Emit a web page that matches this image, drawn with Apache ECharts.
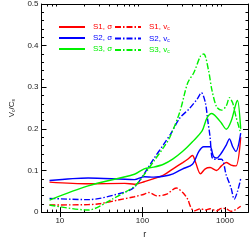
<!DOCTYPE html>
<html><head><meta charset="utf-8">
<script src="https://cdn.jsdelivr.net/npm/echarts@6/dist/echarts.min.js"></script>
<style>html,body{margin:0;padding:0;background:#fff}#c{width:250px;height:244px}</style>
</head><body><div id="c"></div>
<script>
// ---- data (r, value) ----
const s1SigmaR = [7.5, 22, 61, 80, 105, 180, 235, 308, 353, 404, 441, 505, 577, 660, 791, 905, 1036, 1185, 1356, 1550];
const s1SigmaV = [0.072, 0.068, 0.069, 0.067, 0.073, 0.089, 0.104, 0.119, 0.127, 0.136, 0.119, 0.092, 0.104, 0.107, 0.100, 0.111, 0.119, 0.113, 0.111, 0.180];

const s1VR = [7.5, 22, 30, 51, 80, 105, 120, 149, 197, 257, 308, 353, 385, 422, 505, 577, 660, 791, 905, 1036, 1185, 1356, 1550];
const s1VV = [0.017, 0.018, 0.020, 0.029, 0.037, 0.043, 0.047, 0.039, 0.043, 0.058, 0.047, 0.031, 0.012, 0.003, 0.008, 0.005, 0.008, 0.003, 0.009, 0.008, 0.002, 0.006, 0.014];

const s2SigmaR = [7.5, 22, 80, 105, 137, 180, 235, 308, 404, 483, 553, 660, 724, 791, 905, 1036, 1132, 1241, 1356, 1550];
const s2SigmaV = [0.076, 0.082, 0.078, 0.085, 0.084, 0.086, 0.092, 0.104, 0.115, 0.146, 0.157, 0.157, 0.134, 0.130, 0.142, 0.161, 0.176, 0.157, 0.146, 0.190];

const s2VR = [7.5, 22, 61, 80, 105, 137, 180, 223, 284, 372, 462, 518, 577, 621, 660, 692, 730, 905, 1036, 1185, 1295, 1419, 1550];
const s2VV = [0.033, 0.030, 0.048, 0.060, 0.092, 0.128, 0.162, 0.190, 0.226, 0.249, 0.272, 0.287, 0.264, 0.218, 0.180, 0.134, 0.127, 0.127, 0.089, 0.058, 0.031, 0.050, 0.080];

const s3SigmaR = [7.5, 22, 80, 105, 137, 180, 235, 308, 404, 528, 604, 692, 791, 905, 1036, 1185, 1356, 1419, 1550];
const s3SigmaV = [0.029, 0.063, 0.091, 0.104, 0.108, 0.115, 0.128, 0.146, 0.169, 0.195, 0.226, 0.237, 0.228, 0.214, 0.199, 0.218, 0.260, 0.268, 0.200];

const s3VR = [7.5, 22, 43, 80, 105, 137, 180, 215, 284, 353, 422, 505, 553, 633, 692, 791, 905, 1036, 1132, 1241, 1356, 1550];
const s3VV = [0.017, 0.005, 0.031, 0.062, 0.090, 0.122, 0.155, 0.180, 0.241, 0.310, 0.336, 0.375, 0.380, 0.340, 0.295, 0.253, 0.245, 0.255, 0.275, 0.262, 0.230, 0.190];

const xMajorTicks = [10, 100, 1000];
const xMinorTicks = [6, 7, 8, 9, 20, 30, 40, 50, 60, 70, 80, 90, 200, 300, 400, 500, 600, 700, 800, 900];

const names = ['S1, σ', 'S1, v_c', 'S2, σ', 'S2, v_c', 'S3, σ', 'S3, v_c'];
const colors = ['#ff0000', '#ff0000', '#0000ff', '#0000ff', '#00f000', '#00f000'];

// ---- build ----
function pairs(r, v) { return r.map((x, i) => [x, v[i]]); }
const seriesData = [pairs(s1SigmaR, s1SigmaV), pairs(s1VR, s1VV), pairs(s2SigmaR, s2SigmaV), pairs(s2VR, s2VV), pairs(s3SigmaR, s3SigmaV), pairs(s3VR, s3VV)];
const dashDot = [6, 2, 1.5, 2];
const FONT = 'Liberation Sans';

const series = seriesData.map((d, i) => ({
  name: names[i], type: 'line', data: d, showSymbol: false, symbol: 'none', smooth: 0.3,
  xAxisIndex: 0, yAxisIndex: 0,
  lineStyle: { color: colors[i], width: 1.4, type: (i % 2) ? dashDot : 'solid' },
  itemStyle: { color: colors[i] }
}));

function legendFmt(n) {
  if (n.endsWith('v_c')) return '{t|' + n.slice(0, -2) + '}{s|c}';
  return '{t|' + n + '}';
}
function makeLegend(idx, left) {
  return {
    orient: 'vertical', left: left, top: 18, itemWidth: 26, itemHeight: 8, itemGap: 3,
    formatter: legendFmt,
    itemStyle: { opacity: 0 },
    textStyle: { fontSize: 8, fontFamily: FONT, padding: [0, 0, 0, 3],
      rich: { t: { fontSize: 8, fontFamily: FONT }, s: { fontSize: 5, fontFamily: FONT, padding: [4, 0, 0, 0] } } },
    data: idx.map(i => ({ name: names[i], textStyle: { color: colors[i] } }))
  };
}

function xAxis(pos, major) {
  return {
    type: 'log', logBase: 10, min: 6, max: 1900, position: pos,
    axisLine: { show: true, lineStyle: { color: '#000', width: 1 } },
    axisTick: major ? { show: true, inside: true, length: 5, customValues: xMajorTicks, lineStyle: { color: '#000' } }
                    : { show: true, inside: true, length: 2.5, customValues: xMinorTicks, lineStyle: { color: '#000' } },
    axisLabel: { show: major && pos === 'bottom', customValues: xMajorTicks, fontSize: 8, color: '#222', fontFamily: FONT, margin: 5,
      formatter: v => String(Math.round(v)) },
    splitLine: { show: false },
    name: (major && pos === 'bottom') ? 'r' : '', nameLocation: 'middle', nameGap: 17,
    nameTextStyle: { fontSize: 9, color: '#222', fontFamily: FONT }
  };
}
function yAxis(pos) {
  return {
    type: 'value', min: 0, max: 0.5, interval: 0.1, position: pos,
    axisLine: { show: true, lineStyle: { color: '#000', width: 1 } },
    axisTick: { show: true, inside: true, length: 5, lineStyle: { color: '#000' } },
    minorTick: { show: true, splitNumber: 5, length: 2.5, lineStyle: { color: '#000' } },
    axisLabel: { show: pos === 'left', fontSize: 8, color: '#222', fontFamily: FONT, margin: 3,
      formatter: v => (v === 0 ? '0' : v.toFixed(1)) },
    splitLine: { show: false },
    name: pos === 'left' ? '{v|V}{s|c}{v|/C}{s|s}' : '', nameLocation: 'middle', nameGap: 23, nameRotate: 90,
    nameTextStyle: { color: '#222', fontFamily: FONT, rich: { v: { fontSize: 8, fontFamily: FONT, color: '#222' }, s: { fontSize: 5, fontFamily: FONT, color: '#222', padding: [4, 0, 0, 0] } } }
  };
}

const chart = echarts.init(document.getElementById('c'), null, { renderer: 'canvas' });
chart.setOption({
  animation: false,
  grid: { left: 33, right: 2, top: 1, bottom: 25, containLabel: false },
  legend: [makeLegend([0, 2, 4], 53), makeLegend([1, 3, 5], 109)],
  xAxis: [xAxis('bottom', true), xAxis('top', true), xAxis('bottom', false), xAxis('top', false)],
  yAxis: [yAxis('left'), yAxis('right')],
  series: series
});
</script></body></html>
